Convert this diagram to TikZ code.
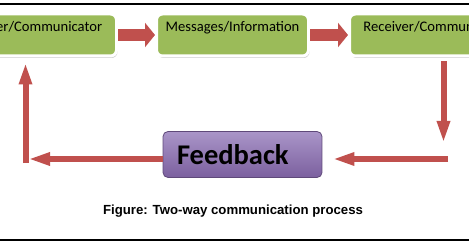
\documentclass[tikz,border=0pt]{standalone}
\usepackage{fontspec}
\newfontfamily\boxfont{Carlito}
\newfontfamily\capfont{Liberation Sans}
\definecolor{StepGreen}{HTML}{9BBB59}
\definecolor{ArrowRed}{HTML}{C0504D}
\definecolor{FeedTop}{HTML}{A995C8}
\definecolor{FeedBottom}{HTML}{7C609F}
\definecolor{FeedBorder}{HTML}{5F497A}
\usetikzlibrary{arrows.meta,positioning,shadows}
\tikzset{
  stepbox/.style={
    fill=StepGreen,
    draw=white,
    line width=3pt,
    rounded corners=6pt,
    minimum width=152pt,
    minimum height=42pt,
    inner ysep=4pt,
    text height=14pt,
    text depth=20pt,
    font=\boxfont\fontsize{14.6}{16}\selectfont,
    drop shadow={shadow xshift=1pt,shadow yshift=-2pt,fill=black!40,opacity=0.5}
  },
  fatarrow/.style={
    draw=ArrowRed,
    line width=12pt,
    -{Triangle[length=10pt,width=24pt]}
  },
  thinarrow/.style={
    draw=ArrowRed,
    line width=6pt,
    -{Triangle[length=22pt,width=12pt]}
  }
}

\begin{document}
\begin{tikzpicture}[x=1pt,y=-1pt]
    \useasboundingbox (0,0) rectangle (469,246);
    \clip (0,0) rectangle (469,246);
    \draw[line width=1.2pt] (0,4) -- (469,4);
    \draw[line width=1.2pt] (0,240) -- (469,240);

    % top row
    \node[stepbox,minimum width=164pt] (sender) at (34.5,35) {Sender/Communicator};
    \node[stepbox] (messages) at (232.5,35) {Messages/Information};
    \node[stepbox,minimum width=172pt] (receiver) at (435.5,35) {Receiver/Communicator};
    \draw[fatarrow] (sender) -- (messages);
    \draw[fatarrow] (messages) -- (receiver);

    % feedback loop
    \node[
      top color=FeedTop,
      bottom color=FeedBottom,
      draw=FeedBorder,
      line width=0.8pt,
      rounded corners=5pt,
      minimum width=159pt,
      minimum height=46pt,
      inner xsep=14pt,
      text width=131pt,
      align=left,
      font=\boxfont\bfseries\fontsize{28.5}{30}\selectfont
    ] (feedback) at (242.5,154.5) {Feedback};
    \coordinate (downend) at (443.5,143);
    \coordinate (rightstart) at (448,159);
    \coordinate (leftend) at (28,159);
    \coordinate (upstart) at (25.5,163);
    \draw[thinarrow,shorten <=4pt] (receiver.south -| downend) -- (downend);
    \draw[thinarrow,shorten >=10pt] (rightstart) -- (feedback.east |- rightstart);
    \draw[thinarrow] (feedback.west |- leftend) -- (leftend);
    \draw[thinarrow,shorten >=5pt] (upstart) -- (upstart |- sender.south);

    \node[font=\capfont\bfseries\fontsize{13.2}{15}\selectfont] (caption) at (233,211)
      {Figure: Two-way communication process};
  \end{tikzpicture}
\end{document}
